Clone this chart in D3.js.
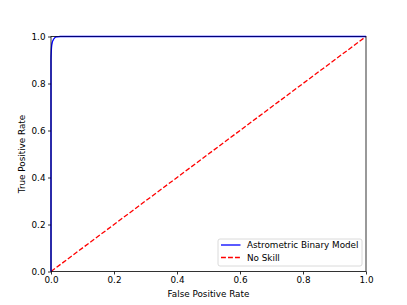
<!DOCTYPE html>
<meta charset="utf-8">
<html>
<head>
  <script src="https://cdn.jsdelivr.net/npm/d3@7"></script>
  <style>
    body { margin: 0; background: #fff; }
    text { font-family: 'DejaVu Sans'; }
  </style>
</head>
<body>
<script>
  // ROC curve points
  var fpr = [0, 0, 0.001, 0.002, 0.004, 0.007, 0.011, 0.016, 0.03, 0.1, 1];
  var tpr = [0, 0.9, 0.94, 0.96, 0.975, 0.985, 0.993, 0.998, 1, 1, 1];
  var noSkill = [0, 1];
  var ticks = [0, 0.2, 0.4, 0.6, 0.8, 1.0];
  var legendLabels = ["Astrometric Binary Model", "No Skill"];

  var W = 407, H = 305;
  var m = {left: 51, right: 41, top: 36.5, bottom: 33.5};

  var svg = d3.select("body").append("svg")
      .attr("width", W)
      .attr("height", H);

  var x = d3.scaleLinear().domain([0, 1]).range([m.left, W - m.right]);
  var y = d3.scaleLinear().domain([0, 1]).range([H - m.bottom, m.top]);

  var line = d3.line()
      .x(function (d) { return x(d[0]); })
      .y(function (d) { return y(d[1]); });
  var curve = d3.line().curve(d3.curveMonotoneX)
      .x(function (d) { return x(d[0]); })
      .y(function (d) { return y(d[1]); });
  var roc = fpr.map(function (v, i) { return [v, tpr[i]]; });

  // no skill line
  svg.append("path")
      .datum(noSkill.map(function (v) { return [v, v]; }))
      .attr("d", line)
      .attr("fill", "none")
      .attr("stroke", "red")
      .attr("stroke-width", 1.3)
      .attr("stroke-dasharray", "4.9,2.1");

  // model line
  svg.append("path")
      .datum(roc)
      .attr("d", curve)
      .attr("fill", "none")
      .attr("stroke", "blue")
      .attr("stroke-width", 1.3);

  // axes
  svg.append("g")
      .attr("transform", "translate(0," + (H - m.bottom) + ")")
      .call(d3.axisBottom(x).tickValues(ticks).tickFormat(d3.format(".1f")).tickSize(3).tickPadding(2.5));
  svg.append("g")
      .attr("transform", "translate(" + m.left + ",0)")
      .call(d3.axisLeft(y).tickValues(ticks).tickFormat(d3.format(".1f")).tickSize(3).tickPadding(2.5));
  svg.selectAll(".tick text").attr("font-size", 8.8).attr("font-family", "DejaVu Sans").attr("fill", "#000");
  svg.selectAll(".domain").remove();
  svg.selectAll(".tick line").attr("stroke", "#000").attr("stroke-width", 0.8);

  // frame
  svg.append("rect")
      .attr("x", m.left).attr("y", m.top)
      .attr("width", W - m.left - m.right)
      .attr("height", H - m.top - m.bottom)
      .attr("fill", "none")
      .attr("stroke", "#000")
      .attr("stroke-width", 0.8);

  // blue sits on top of the spines, partly blended
  svg.append("path")
      .datum(roc)
      .attr("d", curve)
      .attr("fill", "none")
      .attr("stroke", "blue")
      .attr("stroke-opacity", 0.35)
      .attr("stroke-width", 1);

  // labels
  svg.append("text")
      .attr("x", (m.left + W - m.right) / 2)
      .attr("y", 297)
      .attr("text-anchor", "middle")
      .attr("font-size", 8.8)
      .text("False Positive Rate");
  svg.append("text")
      .attr("transform", "translate(25," + ((m.top + H - m.bottom) / 2) + ") rotate(-90)")
      .attr("text-anchor", "middle")
      .attr("font-size", 8.8)
      .text("True Positive Rate");

  // legend
  var lg = svg.append("g");
  lg.append("rect")
      .attr("x", 218).attr("y", 239)
      .attr("width", 144).attr("height", 27)
      .attr("rx", 2)
      .attr("fill", "#fff")
      .attr("fill-opacity", 0.8)
      .attr("stroke", "#d0d0d0")
      .attr("stroke-width", 0.8);
  var colors = ["blue", "red"];
  var dashes = [null, "4.9,2.1"];
  legendLabels.forEach(function (t, i) {
    var yy = 245 + i * 12.5;
    lg.append("line")
        .attr("x1", 221).attr("x2", 240.5)
        .attr("y1", yy).attr("y2", yy)
        .attr("stroke", colors[i])
        .attr("stroke-width", 1.3)
        .attr("stroke-dasharray", dashes[i]);
    lg.append("text")
        .attr("x", 247).attr("y", yy + 3.1)
        .attr("font-size", 8.8)
        .text(t);
  });
</script>
</body>
</html>
